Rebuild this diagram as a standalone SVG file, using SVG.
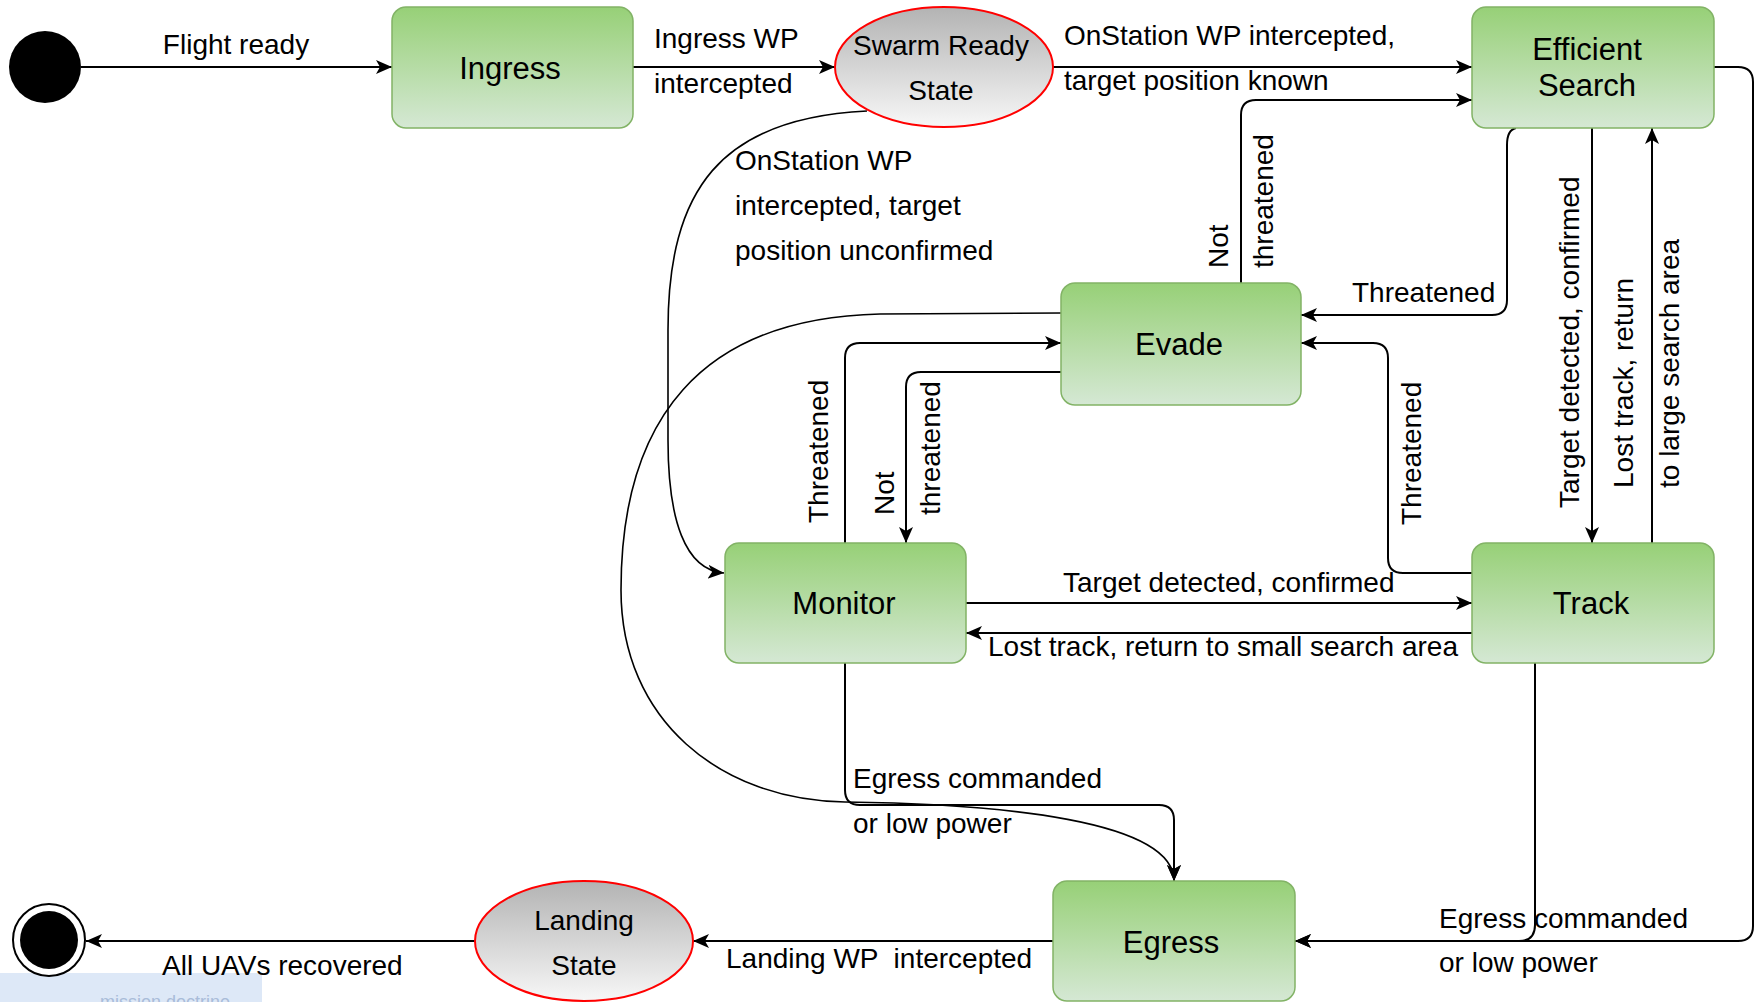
<svg xmlns="http://www.w3.org/2000/svg" width="1758" height="1002" viewBox="0 0 1758 1002">
  <defs>
    <linearGradient id="gGreen" x1="0" y1="0" x2="0" y2="1">
      <stop offset="0" stop-color="#97d077"/>
      <stop offset="1" stop-color="#d5e8d4"/>
    </linearGradient>
    <linearGradient id="gGray" x1="0" y1="0" x2="0" y2="1">
      <stop offset="0" stop-color="#b3b3b3"/>
      <stop offset="1" stop-color="#f7f7f7"/>
    </linearGradient>
    <marker id="arr" markerWidth="18" markerHeight="16" refX="16" refY="8" orient="auto" markerUnits="userSpaceOnUse" viewBox="0 0 18 16">
      <path d="M0,1 L16,8 L0,15 L4,8 Z" fill="#000"/>
    </marker>
    <style>
      .state { fill: url(#gGreen); stroke: #82b366; stroke-width: 1.5; }
      .pseudo { fill: url(#gGray); stroke: #ff0000; stroke-width: 2; }
      .t { font-family: "Liberation Sans", Arial, Helvetica, sans-serif; font-size: 28px; fill: #000; }
      .n { font-size: 31px; }
      .c { text-anchor: middle; }
      .edge { fill: none; stroke: #000; stroke-width: 2; }
      .thin { stroke-width: 1.6; }
      .head { marker-end: url(#arr); }
    </style>
  </defs>

  <rect width="1758" height="1002" fill="#ffffff"/>

  <!-- note strip in the lower left corner -->
  <g id="note">
    <rect x="0" y="973" width="262" height="29" fill="#dde8f7"/>
    <text x="100" y="1008" font-family="Liberation Sans, Arial, sans-serif" font-size="18" fill="#a9bcd9">mission doctrine</text>
  </g>

  <!-- transitions -->
  <g id="connectors">
    <path class="edge head" d="M81 67 L392 67"/>
    <path class="edge head" d="M633 67 L835 67"/>
    <path class="edge head" d="M1053 67 L1472 67"/>
    <!-- Swarm Ready -> Monitor -->
    <path class="edge thin head" d="M867 111 C720 118 668 190 668 330 L668 440 C668 520 685 570 724 573"/>
    <!-- Evade -> Efficient Search -->
    <path class="edge head" d="M1241 283 L1241 115 Q1241 100 1256 100 L1472 100"/>
    <!-- Efficient Search -> Evade -->
    <path class="edge head" d="M1516 128 Q1507 130 1507 145 L1507 300 Q1507 315 1492 315 L1301 315"/>
    <!-- Efficient Search <-> Track -->
    <path class="edge head" d="M1592 128 L1592 543"/>
    <path class="edge head" d="M1652 543 L1652 128"/>
    <!-- Track -> Evade -->
    <path class="edge head" d="M1472 573 L1403 573 Q1388 573 1388 558 L1388 358 Q1388 343 1373 343 L1301 343"/>
    <!-- Monitor <-> Evade -->
    <path class="edge head" d="M845 543 L845 358 Q845 343 860 343 L1061 343"/>
    <path class="edge head" d="M1061 372 L921 372 Q906 372 906 387 L906 543"/>
    <!-- Monitor <-> Track -->
    <path class="edge head" d="M966 603 L1472 603"/>
    <path class="edge head" d="M1472 633 L966 633"/>
    <!-- Monitor -> Egress -->
    <path class="edge head" d="M845 663 L845 790 Q845 805 860 805 L1159 805 Q1174 805 1174 820 L1174 881"/>
    <!-- Evade -> Egress -->
    <path class="edge thin head" d="M1061 313 L880 314 C700 318 621 420 621 590 C621 720 720 800 845 802 C1000 804 1174 820 1174 881"/>
    <!-- Efficient Search -> Egress -->
    <path class="edge head" d="M1714 67 L1738 67 Q1753 67 1753 82 L1753 926 Q1753 941 1738 941 L1295 941"/>
    <!-- Track -> Egress -->
    <path class="edge head" d="M1535 663 L1535 925 Q1535 941 1519 941 L1295 941"/>
    <!-- Egress -> Landing, Landing -> end -->
    <path class="edge head" d="M1053 941 L693 941"/>
    <path class="edge head" d="M475 941 L86 941"/>
  </g>

  <!-- transition labels -->
  <g id="edge-labels" class="t">
    <text x="236" y="54" class="c">Flight ready</text>
    <text x="654" y="48">Ingress WP</text>
    <text x="654" y="93">intercepted</text>
    <text x="1064" y="45">OnStation WP intercepted,</text>
    <text x="1064" y="90">target position known</text>
    <text x="735" y="170">OnStation WP</text>
    <text x="735" y="215">intercepted, target</text>
    <text x="735" y="260">position unconfirmed</text>
    <text x="1352" y="302">Threatened</text>
    <text transform="translate(1228 268) rotate(-90)">Not</text>
    <text transform="translate(1273 268) rotate(-90)">threatened</text>
    <text transform="translate(1579 508) rotate(-90)">Target detected, confirmed</text>
    <text transform="translate(1633 488) rotate(-90)">Lost track, return</text>
    <text transform="translate(1679 488) rotate(-90)">to large search area</text>
    <text transform="translate(1421 525) rotate(-90)">Threatened</text>
    <text transform="translate(828 523) rotate(-90)">Threatened</text>
    <text transform="translate(894 515) rotate(-90)">Not</text>
    <text transform="translate(940 515) rotate(-90)">threatened</text>
    <text x="1063" y="592">Target detected, confirmed</text>
    <text x="988" y="656">Lost track, return to small search area</text>
    <text x="853" y="788">Egress commanded</text>
    <text x="853" y="833">or low power</text>
    <text x="1439" y="928">Egress commanded</text>
    <text x="1439" y="972">or low power</text>
    <text x="726" y="968" xml:space="preserve">Landing WP  intercepted</text>
    <text x="162" y="975">All UAVs recovered</text>
  </g>

  <!-- states -->
  <g id="start">
    <circle cx="45" cy="67" r="36" fill="#000"/>
  </g>
  <g id="ingress">
    <rect class="state" x="392" y="7" width="241" height="121" rx="14"/>
    <text class="t n c" x="510" y="79">Ingress</text>
  </g>
  <g id="swarm-ready">
    <ellipse class="pseudo" cx="944" cy="67" rx="109" ry="60"/>
    <text class="t c" x="941" y="55">Swarm Ready</text>
    <text class="t c" x="941" y="100">State</text>
  </g>
  <g id="efficient-search">
    <rect class="state" x="1472" y="7" width="242" height="121" rx="14"/>
    <text class="t n c" x="1587" y="60">Efficient</text>
    <text class="t n c" x="1587" y="96">Search</text>
  </g>
  <g id="evade">
    <rect class="state" x="1061" y="283" width="240" height="122" rx="14"/>
    <text class="t n c" x="1179" y="355">Evade</text>
  </g>
  <g id="monitor">
    <rect class="state" x="725" y="543" width="241" height="120" rx="14"/>
    <text class="t n c" x="844" y="614">Monitor</text>
  </g>
  <g id="track">
    <rect class="state" x="1472" y="543" width="242" height="120" rx="14"/>
    <text class="t n c" x="1591" y="614">Track</text>
  </g>
  <g id="egress">
    <rect class="state" x="1053" y="881" width="242" height="120" rx="14"/>
    <text class="t n c" x="1171" y="953">Egress</text>
  </g>
  <g id="landing">
    <ellipse class="pseudo" cx="584" cy="941" rx="109" ry="60"/>
    <text class="t c" x="584" y="930">Landing</text>
    <text class="t c" x="584" y="975">State</text>
  </g>
  <g id="end">
    <circle cx="49" cy="940" r="36" fill="#fff" stroke="#000" stroke-width="2"/>
    <circle cx="49" cy="940" r="29" fill="#000"/>
  </g>
</svg>
